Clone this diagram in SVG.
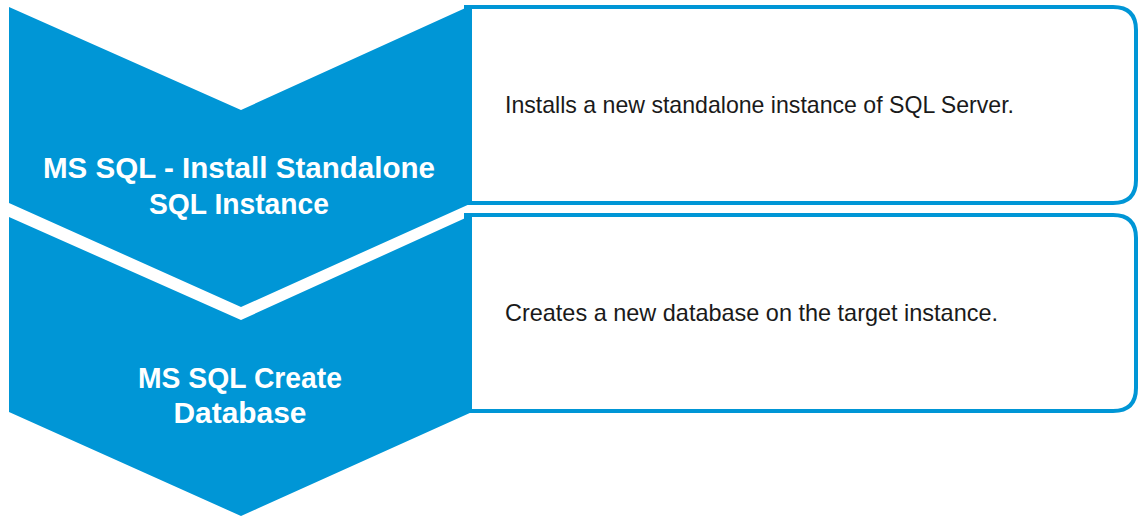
<svg xmlns="http://www.w3.org/2000/svg" width="1139" height="519" viewBox="0 0 1139 519">
<style>
.chev{fill:#0096D6;}
.box{fill:#fff;stroke:#0096D6;stroke-width:4;}
.lbl{font-family:"Liberation Sans",Arial,sans-serif;font-weight:bold;font-size:30px;fill:#fff;text-anchor:middle;}
.desc{font-family:"Liberation Sans",Arial,sans-serif;font-size:24px;fill:#1a1a1a;}
</style>
<rect width="1139" height="519" fill="#fff"/>
<g id="connectors"></g>
<g id="desc1">
<path class="box" d="M466 7 H1113 Q1136 7 1136 30 V180 Q1136 203 1113 203 H466 Z"/>
<text class="desc" x="505" y="113" textLength="509" lengthAdjust="spacingAndGlyphs">Installs a new standalone instance of SQL Server.</text>
</g>
<g id="desc2">
<path class="box" d="M466 215 H1113 Q1136 215 1136 238 V388 Q1136 411 1113 411 H466 Z"/>
<text class="desc" x="505" y="321" textLength="493" lengthAdjust="spacingAndGlyphs">Creates a new database on the target instance.</text>
</g>
<g id="step1">
<polygon class="chev" points="9,7 241,110 472,5 472,203 241,307 9,203"/>
<text class="lbl" x="239" y="178" textLength="392" lengthAdjust="spacingAndGlyphs">MS SQL - Install Standalone</text>
<text class="lbl" x="239" y="214" textLength="180" lengthAdjust="spacingAndGlyphs">SQL Instance</text>
</g>
<g id="step2">
<polygon class="chev" points="9,217 241,320 472,215 472,412 241,516 9,412"/>
<text class="lbl" x="240" y="388" textLength="204" lengthAdjust="spacingAndGlyphs">MS SQL Create</text>
<text class="lbl" x="240" y="423" textLength="133" lengthAdjust="spacingAndGlyphs">Database</text>
</g>
</svg>
